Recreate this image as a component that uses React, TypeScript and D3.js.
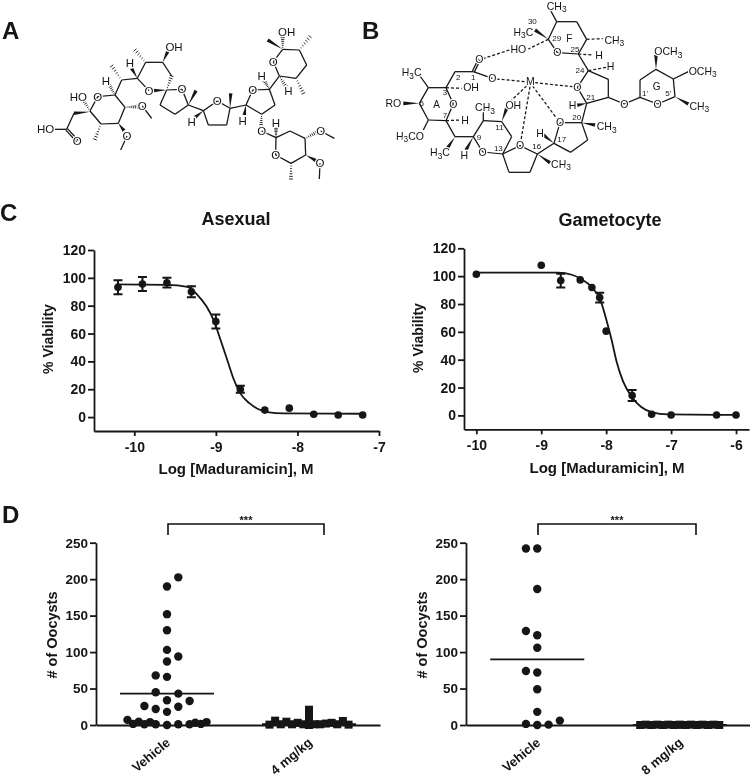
import React, {useEffect, useRef} from 'react';
import * as d3 from 'd3';

// dose response
const asexualDose = [-10.2, -9.9, -9.6, -9.3, -9, -8.7, -8.4, -8.1, -7.8, -7.5, -7.2];
const asexualViability = [93.2, 95.6, 96.5, 90, 68.6, 20, 5, 6.4, 2, 1.5, 1.5];
const asexualError = [5, 5, 3.5, 4, 5, 2.5, 0, 0, 0, 0, 0];
const asexualFitDose = [-10.22, -9.6, -9.35, -9.23, -9.11, -9.02, -8.94, -8.86, -8.78, -8.7, -8.59, -8.49, -8.37, -8.16, -7.2];
const asexualFitViability = [95.3, 95, 93.5, 88, 79, 68.6, 55, 41, 27, 17, 10, 6, 3.6, 2.6, 2.4];

const gametocyteDose = [-10, -9, -8.7, -8.4, -8.22, -8.1, -8, -7.6, -7.3, -7, -6.3, -6];
const gametocyteViability = [101.4, 107.8, 96.8, 97.3, 91.8, 84.6, 60.5, 14.3, 0.8, 0.3, 0.3, 0.3];
const gametocyteError = [0, 0, 5, 0, 0, 3.5, 0, 4, 0, 0, 0, 0];
const gametocyteFitDose = [-10, -8.74, -8.53, -8.38, -8.22, -8.09, -7.99, -7.915, -7.84, -7.74, -7.61, -7.46, -7.3, -7.04, -6];
const gametocyteFitViability = [102.5, 102.5, 101, 97.8, 92, 83, 67.4, 54, 38.7, 24.4, 13.6, 6, 2.4, 0.7, 0.3];

const viabilityTicks = [0, 20, 40, 60, 80, 100, 120];
const asexualDoseTicks = [-10, -9, -8, -7];
const gametocyteDoseTicks = [-10, -9, -8, -7, -6];

// oocyst counts, panel D. slots = swarm column of each point
const oocystTicks = [0, 50, 100, 150, 200, 250];
const vehicleA = [202.5, 190, 152, 130, 103, 94, 87, 68, 66, 45, 43, 34, 33, 26, 25, 22, 18, 7, 4.5, 4, 1.5, 1, 1, 0, 1, 1, 1.5, 4, 3];
const vehicleASlots = [1, 0, 0, 0, 0, 1, 0, -1, 0, -1, 1, 0, 2, -2, 1, -1, 0, -3.5, -2.5, -1.5, -3, -2, -1, 0, 1, 2, 3, 3.5, 2.5];
const dose4 = [0.5, 6, 1, 4.5, 1, 3, 1, 21, 14, 8, 0, 1, 1, 2, 3, 1, 5.5, 0.5];
const dose4Slots = [-3.5, -3, -2.5, -2, -1.5, -1, -0.5, 0, 0, 0, 0, 0.5, 1, 1.5, 2, 2.5, 3, 3.5];
const vehicleB = [242, 242, 186.5, 129, 123, 106, 74, 72, 49, 18, 1.5, 0, 0.5, 6];
const vehicleBSlots = [-1, 0, 0, -1, 0, 0, -1, 0, 0, 0, -1, 0, 1, 2];
const dose8 = [0, 0.5, 0, 0.5, 0, 0.5, 0, 0.5, 0, 0.5, 0, 0.5, 0, 0.5, 0];
const dose8Slots = [-3.5, -3, -2.5, -2, -1.5, -1, -0.5, 0, 0.5, 1, 1.5, 2, 2.5, 3, 3.5];
const categoriesA = ['Vehicle', '4 mg/kg'];
const categoriesB = ['Vehicle', '8 mg/kg'];
const mediansA = [43, 1];
const mediansB = [90, 0];

// skeletal formulas: [kind, x1, y1, x2, y2] in a 3x drawing grid
type Bond = [string, number, number, number, number];
const bondsA: Bond[] = [
  ['d', 200, 388, 232, 423], ['p', 165, 388, 200, 388], ['p', 200, 388, 222, 340], ['w', 270, 335, 222, 340],
  ['p', 270, 333, 293, 290], ['p', 293, 290, 345, 285], ['p', 345, 285, 375, 322], ['p', 375, 322, 355, 370],
  ['p', 355, 370, 303, 372], ['p', 303, 372, 270, 333], ['h', 270, 333, 250, 300], ['h', 303, 372, 285, 418],
  ['w', 355, 370, 372, 392], ['p', 381, 408, 362, 450], ['h', 375, 322, 412, 320], ['p', 427, 318, 455, 355],
  ['h', 345, 285, 328, 255], ['p', 345, 285, 365, 240], ['h', 365, 240, 335, 198], ['p', 365, 240, 412, 235],
  ['w', 412, 235, 395, 205], ['p', 412, 235, 447, 272], ['p', 412, 235, 437, 187], ['h', 437, 187, 405, 150],
  ['p', 437, 187, 488, 187], ['w', 488, 187, 503, 155], ['p', 488, 187, 515, 228], ['h', 500, 270, 515, 228],
  ['w', 500, 270, 458, 272], ['p', 500, 270, 546, 268], ['p', 500, 270, 480, 315], ['p', 480, 315, 525, 343],
  ['p', 525, 343, 565, 315], ['p', 565, 315, 546, 268], ['w', 565, 315, 588, 272], ['p', 565, 315, 610, 332],
  ['w', 610, 332, 585, 352], ['p', 610, 332, 652, 303], ['p', 610, 332, 625, 375], ['p', 625, 375, 680, 375],
  ['p', 680, 375, 690, 325], ['p', 690, 325, 652, 303], ['w', 690, 325, 692, 280], ['p', 690, 325, 738, 315],
  ['w', 738, 315, 733, 345], ['p', 738, 315, 758, 270], ['p', 738, 315, 785, 343], ['p', 785, 343, 825, 315],
  ['p', 825, 315, 808, 268], ['p', 808, 268, 758, 270], ['h', 785, 343, 783, 380], ['h', 808, 268, 793, 242],
  ['p', 808, 268, 838, 228], ['p', 838, 228, 820, 185], ['p', 838, 228, 888, 235], ['h', 838, 228, 858, 260],
  ['h', 888, 235, 910, 280], ['p', 888, 235, 920, 195], ['p', 920, 195, 898, 150], ['h', 898, 150, 930, 110],
  ['p', 898, 150, 848, 148], ['p', 848, 148, 820, 185], ['w', 848, 148, 803, 120], ['h', 848, 148, 848, 112],
  ['p', 785, 393, 828, 413], ['h', 828, 413, 828, 385], ['p', 828, 413, 870, 393], ['p', 870, 393, 915, 415],
  ['h', 915, 415, 948, 398], ['p', 962, 393, 1003, 415], ['p', 915, 415, 917, 465], ['w', 917, 465, 948, 482],
  ['p', 960, 490, 958, 537], ['p', 917, 465, 873, 490], ['h', 873, 490, 873, 537], ['p', 873, 490, 827, 465],
  ['p', 827, 465, 828, 413],
];
const labelsA: [string, number, number][] = [
  ['HO', 137, 388], ['O', 232, 423], ['HO', 235, 292], ['O', 293, 290], ['O', 381, 408], ['O', 427, 318],
  ['H', 318, 243], ['H', 390, 190], ['O', 447, 272], ['OH', 522, 142], ['O', 546, 268], ['H', 575, 365],
  ['O', 652, 303], ['H', 728, 362], ['O', 758, 270], ['H', 785, 228], ['O', 820, 185], ['H', 865, 272],
  ['OH', 860, 97], ['O', 785, 393], ['H', 828, 368], ['O', 962, 393], ['O', 960, 490], ['O', 827, 465],
];

const bondsB: Bond[] = [
  ['p', 590, 65, 572, 32], ['p', 590, 65, 650, 65], ['p', 650, 65, 680, 118], ['p', 680, 118, 655, 162],
  ['p', 655, 162, 592, 158], ['p', 592, 158, 565, 118], ['p', 565, 118, 590, 65], ['x', 680, 118, 728, 116],
  ['w', 565, 118, 525, 90], ['x', 565, 118, 505, 147], ['x', 448, 150, 372, 175], ['x', 655, 162, 700, 165],
  ['p', 655, 162, 685, 212], ['x', 685, 212, 738, 202], ['p', 685, 212, 745, 238], ['p', 745, 238, 745, 292],
  ['p', 745, 292, 680, 310], ['p', 680, 310, 652, 262], ['p', 652, 262, 685, 212], ['p', 745, 292, 793, 312],
  ['p', 793, 312, 840, 292], ['p', 840, 292, 840, 240], ['p', 840, 240, 888, 208], ['p', 888, 208, 940, 237],
  ['p', 940, 237, 945, 290], ['p', 945, 290, 893, 312], ['p', 893, 312, 840, 292], ['w', 888, 208, 888, 165],
  ['p', 940, 237, 985, 215], ['w', 945, 290, 985, 312], ['w', 680, 310, 652, 316], ['p', 680, 310, 665, 368],
  ['p', 665, 368, 600, 368], ['w', 665, 368, 705, 375], ['p', 665, 368, 683, 420], ['p', 683, 420, 632, 457],
  ['p', 632, 457, 582, 430], ['p', 582, 430, 600, 368], ['w', 582, 430, 550, 405], ['p', 582, 430, 532, 462],
  ['p', 532, 462, 480, 437], ['w', 532, 462, 570, 488], ['p', 532, 462, 510, 517], ['p', 510, 517, 447, 517],
  ['p', 447, 517, 428, 462], ['p', 428, 462, 480, 437], ['p', 428, 462, 368, 456], ['p', 428, 462, 455, 410],
  ['p', 455, 410, 425, 365], ['w', 425, 365, 440, 325], ['p', 425, 365, 370, 362], ['p', 370, 362, 370, 335],
  ['p', 370, 362, 340, 410], ['p', 340, 410, 368, 456], ['w', 340, 410, 318, 450], ['p', 340, 410, 285, 410],
  ['w', 285, 410, 262, 445], ['p', 285, 410, 258, 362], ['x', 258, 362, 300, 360], ['p', 258, 362, 205, 360],
  ['p', 205, 360, 190, 390], ['p', 205, 360, 178, 310], ['w', 178, 310, 130, 310], ['p', 178, 310, 205, 263],
  ['p', 205, 263, 180, 228], ['p', 205, 263, 258, 263], ['p', 258, 263, 280, 312], ['p', 280, 312, 258, 362],
  ['x', 258, 263, 305, 265], ['p', 258, 263, 285, 215], ['p', 285, 215, 340, 215], ['d', 340, 215, 358, 178],
  ['p', 340, 215, 397, 235], ['x', 410, 237, 495, 245], ['x', 525, 248, 638, 260], ['x', 518, 258, 590, 355],
  ['x', 510, 260, 483, 420], ['x', 500, 258, 455, 300],
];
const labelsB: [string, number, number][] = [
  ['CH_3', 590, 18], ['H_3C', 490, 96], ['CH_3', 763, 120], ['O', 592, 158], ['HO', 475, 148], ['O', 358, 178],
  ['H', 717, 165], ['H', 752, 200], ['O', 652, 262], ['O', 793, 312], ['O', 893, 312], ['OCH_3', 925, 155],
  ['OCH_3', 1028, 213], ['CH_3', 1018, 318], ['H', 638, 316], ['O', 600, 368], ['CH_3', 740, 380], ['H', 540, 400],
  ['O', 480, 437], ['CH_3', 603, 492], ['O', 368, 456], ['OH', 460, 315], ['CH_3', 375, 322], ['H', 313, 467],
  ['H_3C', 240, 458], ['H', 315, 360], ['H_3CO', 150, 408], ['RO', 100, 310], ['H_3C', 155, 218], ['O', 280, 312],
  ['OH', 333, 263], ['O', 397, 235], ['M', 511, 245],
];
const numbersB: [string, number, number][] = [
  ['30', 517, 62], ['29', 590, 115], ['F', 628, 115], ['25', 645, 148], ['24', 660, 210], ['21', 692, 290],
  ['G', 890, 260], ["1'", 855, 278], ["5'", 925, 280], ['20', 650, 352], ['17', 605, 418], ['16', 530, 438],
  ['13', 415, 443], ['11', 418, 382], ['9', 357, 412], ['7', 255, 345], ['5', 185, 310], ['A', 230, 312],
  ['3', 255, 275], ['2', 295, 232], ['1', 340, 232],
];

const INK = '#141414';
const FONT = '"Liberation Sans", Arial, sans-serif';

function drawMolecule(g: any, bonds: Bond[], labels: [string, number, number][], ox: number, size: number) {
  const sx = d3.scaleLinear().domain([0, 3]).range([ox, ox + 1]);
  const sy = d3.scaleLinear().domain([0, 3]).range([0, 1]);
  bonds.forEach(([kind, a, b, c, d]) => {
    const x1 = sx(a), y1 = sy(b), x2 = sx(c), y2 = sy(d);
    const len = Math.hypot(x2 - x1, y2 - y1);
    const nx = -(y2 - y1) / len, ny = (x2 - x1) / len;
    if (kind === 'w') {
      g.append('path')
        .attr('d', d3.line()([[x1, y1], [x2 + nx * 1.8, y2 + ny * 1.8], [x2 - nx * 1.8, y2 - ny * 1.8]]) + 'Z')
        .attr('fill', INK);
    } else if (kind === 'h') {
      d3.range(1, 7).forEach(i => {
        const t = i / 6, w = 0.3 + t * 1.7;
        const px = x1 + (x2 - x1) * t, py = y1 + (y2 - y1) * t;
        g.append('line').attr('x1', px + nx * w).attr('y1', py + ny * w)
          .attr('x2', px - nx * w).attr('y2', py - ny * w)
          .attr('stroke', INK).attr('stroke-width', 0.9);
      });
    } else {
      const off = kind === 'd' ? [-1.1, 1.1] : [0];
      off.forEach(o => {
        g.append('line').attr('x1', x1 + nx * o).attr('y1', y1 + ny * o)
          .attr('x2', x2 + nx * o).attr('y2', y2 + ny * o)
          .attr('stroke', INK).attr('stroke-width', 1.25)
          .attr('stroke-dasharray', kind === 'x' ? '3 2' : null);
      });
    }
  });
  labels.forEach(([txt, a, b]) => {
    const t = g.append('text').attr('x', sx(a)).attr('y', sy(b)).attr('dy', '0.36em')
      .attr('text-anchor', 'middle').attr('font-size', size).attr('fill', INK)
      .attr('stroke', '#fff').attr('stroke-width', 2.5).attr('paint-order', 'stroke');
    txt.split('_').forEach((part, i) => {
      if (i === 0) { t.append('tspan').text(part); return; }
      t.append('tspan').attr('dy', 2.5).attr('font-size', size * 0.8).text(part[0]);
      if (part.length > 1) t.append('tspan').attr('dy', -2.5).text(part.slice(1));
    });
  });
}

function styleAxis(a: any, size: number) {
  a.attr('font-family', FONT).attr('font-size', size).attr('font-weight', 'bold');
  a.selectAll('path,line').attr('stroke', INK).attr('stroke-width', 1.8);
  a.selectAll('text').attr('fill', INK);
}

function doseChart(svg: any, o: any) {
  const x = d3.scaleLinear().domain(o.xDomain).range(o.xRange);
  const y = d3.scaleLinear().domain([-10, 120]).range(o.yRange);
  const bottom = o.yRange[0];
  styleAxis(svg.append('g').attr('transform', `translate(0,${bottom})`)
    .call(d3.axisBottom(x).tickValues(o.xTicks).tickSize(5).tickSizeOuter(0).tickPadding(6).tickFormat((d: any) => String(d))), 14);
  styleAxis(svg.append('g').attr('transform', `translate(${o.xRange[0]},0)`)
    .call(d3.axisLeft(y).tickValues(viabilityTicks).tickSize(6).tickSizeOuter(0).tickPadding(2)), 14);
  const line = d3.line().x((d: any) => x(d[0])).y((d: any) => y(d[1])).curve(d3.curveMonotoneX);
  svg.append('path').attr('d', line(d3.zip(o.fitX, o.fitY) as any)).attr('fill', 'none')
    .attr('stroke', INK).attr('stroke-width', 1.8);
  o.dose.forEach((d: number, i: number) => {
    const v = o.viability[i], e = o.error[i];
    if (e > 0) {
      const cx = x(d);
      const path = d3.path();
      path.moveTo(cx, y(v - e)); path.lineTo(cx, y(v + e));
      path.moveTo(cx - 4.5, y(v - e)); path.lineTo(cx + 4.5, y(v - e));
      path.moveTo(cx - 4.5, y(v + e)); path.lineTo(cx + 4.5, y(v + e));
      svg.append('path').attr('d', path.toString()).attr('fill', 'none').attr('stroke', INK).attr('stroke-width', 2);
    }
    svg.append('circle').attr('cx', x(d)).attr('cy', y(v)).attr('r', 3.8).attr('fill', INK);
  });
}

function swarmChart(svg: any, o: any) {
  const x = d3.scaleBand().domain(o.categories).range(o.xRange);
  const y = d3.scaleLinear().domain([0, 250]).range([725, 542.7]);
  const slot = d3.scaleLinear().domain([0, 1]).range([0, 11.3]);
  const center = (c: string) => x(c)! + x.bandwidth() / 2;
  const ax = svg.append('g').attr('transform', 'translate(0,725)')
    .call(d3.axisBottom(x).tickSize(4).tickSizeOuter(0).tickPadding(6));
  styleAxis(ax, 13);
  ax.selectAll('text').attr('text-anchor', 'end').attr('dy', 0).attr('y', 0).attr('x', 0)
    .attr('transform', 'translate(4,19) rotate(-40)');
  styleAxis(svg.append('g').attr('transform', `translate(${o.xRange[0]},0)`)
    .call(d3.axisLeft(y).tickValues(oocystTicks).tickSize(6).tickSizeOuter(0).tickPadding(2)), 13.5);
  o.vehicle.forEach((v: number, i: number) => {
    svg.append('circle').attr('cx', center(o.categories[0]) + slot(o.vehicleSlots[i])).attr('cy', y(v)).attr('r', 4.2).attr('fill', INK);
  });
  o.treated.forEach((v: number, i: number) => {
    svg.append('rect').attr('x', center(o.categories[1]) + slot(o.treatedSlots[i]) - 4).attr('y', y(v) - 4)
      .attr('width', 8).attr('height', 8).attr('fill', INK);
  });
  o.medians.forEach((m: number, i: number) => {
    const c = center(o.categories[i]);
    svg.append('line').attr('x1', c - 47).attr('x2', c + 47).attr('y1', y(m)).attr('y2', y(m))
      .attr('stroke', INK).attr('stroke-width', 1.8);
  });
  const [b0, b1] = o.bracket;
  svg.append('path').attr('d', d3.line()([[b0, 535], [b0, 524], [b1, 524], [b1, 535]]))
    .attr('fill', 'none').attr('stroke', INK).attr('stroke-width', 1.6);
  svg.append('text').attr('x', (b0 + b1) / 2).attr('y', 524).attr('text-anchor', 'middle')
    .attr('font-size', 11).attr('font-weight', 'bold').attr('fill', INK).attr('font-family', FONT).text('***');
}

function App() {
  const svgRef = useRef<SVGSVGElement>(null);
  useEffect(() => {
    const root = d3.select(svgRef.current);
    root.selectAll('*').remove();
    const defs = root.append('defs');
    const soft = (id: string, dev: number) => defs.append('filter').attr('id', id)
      .attr('x', 0).attr('y', 0).attr('width', 750).attr('height', 780).attr('filterUnits', 'userSpaceOnUse')
      .append('feGaussianBlur').attr('stdDeviation', dev);
    soft('soft', 0.4);
    soft('softer', 0.55);
    const svg = root.append('g').attr('filter', 'url(#soft)').attr('font-family', FONT);
    const mols = root.append('g').attr('filter', 'url(#softer)').attr('font-family', FONT);

    const text = (s: string, x: number, y: number, size: number, opts: any = {}) => {
      const t = svg.append('text').attr('x', x).attr('y', y).attr('font-size', size)
        .attr('font-weight', opts.weight || 'bold').attr('fill', INK)
        .attr('text-anchor', opts.anchor || 'middle').text(s);
      if (opts.rotate) t.attr('transform', `rotate(-90 ${x} ${y})`);
    };
    text('A', 2, 39, 24, {anchor: 'start'});
    text('B', 362, 39, 24, {anchor: 'start'});
    text('C', 0, 221, 24, {anchor: 'start'});
    text('D', 2, 523, 24, {anchor: 'start'});

    drawMolecule(mols.append('g'), bondsA, labelsA, 0, 11.5);
    const mb = mols.append('g');
    drawMolecule(mb, bondsB, labelsB, 360, 10.5);
    numbersB.forEach(([s, a, b]) => {
      mb.append('text').attr('x', 360 + a / 3).attr('y', b / 3).attr('dy', '0.36em').attr('text-anchor', 'middle')
        .attr('font-size', /[AFG]/.test(s) ? 10 : 8).attr('fill', INK).text(s);
    });

    doseChart(svg, {xDomain: [-10.494, -7], xRange: [94, 379], yRange: [431, 250], xTicks: asexualDoseTicks,
      dose: asexualDose, viability: asexualViability, error: asexualError, fitX: asexualFitDose, fitY: asexualFitViability});
    doseChart(svg, {xDomain: [-10.19, -5.8], xRange: [464, 749], yRange: [429.3, 248.3], xTicks: gametocyteDoseTicks,
      dose: gametocyteDose, viability: gametocyteViability, error: gametocyteError, fitX: gametocyteFitDose, fitY: gametocyteFitViability});
    text('Asexual', 236, 225, 18);
    text('Gametocyte', 610, 226, 18);
    text('Log [Maduramicin], M', 236, 474, 15);
    text('Log [Maduramicin], M', 607, 473, 15);
    text('% Viability', 53, 339, 14, {rotate: true});
    text('% Viability', 423, 338, 14, {rotate: true});

    swarmChart(svg, {categories: categoriesA, xRange: [96, 380], vehicle: vehicleA, vehicleSlots: vehicleASlots,
      treated: dose4, treatedSlots: dose4Slots, medians: mediansA, bracket: [168, 324]});
    swarmChart(svg, {categories: categoriesB, xRange: [466, 751], vehicle: vehicleB, vehicleSlots: vehicleBSlots,
      treated: dose8, treatedSlots: dose8Slots, medians: mediansB, bracket: [538, 696]});
    text('# of Oocysts', 57, 635, 14.5, {rotate: true});
    text('# of Oocysts', 427, 635, 14.5, {rotate: true});
  }, []);
  return <svg ref={svgRef} width={750} height={780} style={{position: 'absolute', left: 0, top: 0, background: '#fff'}} />;
}

export default App;
